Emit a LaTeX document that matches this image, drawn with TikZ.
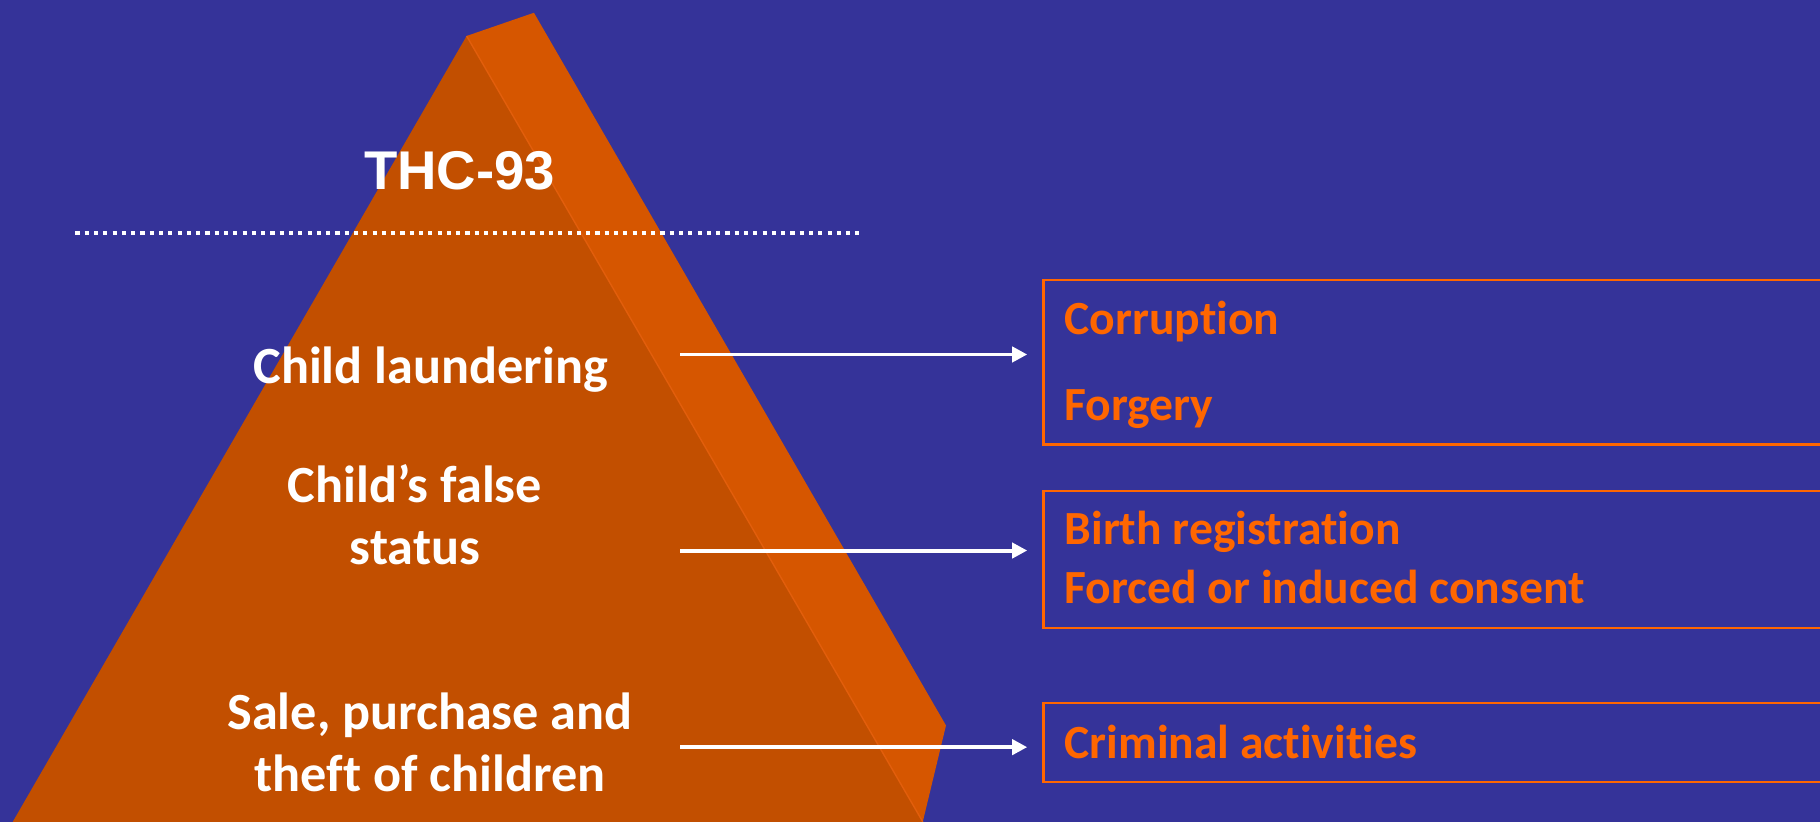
\documentclass[tikz,border=0pt]{standalone}
\usepackage{fontspec}
\setmainfont{Carlito}[Ligatures=NoCommon]
\newfontfamily\arialfont{Liberation Sans}
\usetikzlibrary{arrows.meta}
\definecolor{bgblue}{RGB}{53,51,153}
\definecolor{frontor}{RGB}{194,79,0}
\definecolor{sideor}{RGB}{214,86,0}
\definecolor{edgeor}{RGB}{226,94,12}
\definecolor{boxor}{RGB}{255,102,0}
\tikzset{
  lefttext/.style={text=white, font=\bfseries\fontsize{45}{53.5}\selectfont, align=center, inner sep=0pt},
  boxtext/.style={text=boxor, font=\bfseries\fontsize{41}{48}\selectfont, inner sep=0pt},
  itembox/.style={draw=boxor, line width=2pt, minimum width=720pt, inner sep=0pt},
  arr/.style={draw=white, line width=3.4pt, -{Triangle[length=13pt,width=13pt]}},
  dotline/.style={draw=white, line width=3.6pt, dash pattern=on 3.6pt off 4.4pt}
}
\begin{document}
\begin{tikzpicture}[x=1pt,y=-1pt]
\fill[bgblue] (0,0) rectangle (1568,708);
\useasboundingbox (0,0) rectangle (1568,708);
% pyramid
\fill[sideor] (402,31) -- (460,11) -- (815,625) -- (795,708) -- cycle;
\fill[frontor] (402,31) -- (795,708) -- (11,708) -- cycle;
\draw[edgeor, line width=1.2pt] (402,31) -- (795,708);
% title
\node[text=white, font=\arialfont\bfseries\fontsize{47}{56}\selectfont, inner sep=0pt, anchor=base] (title) at (396,163) {THC-93};
\draw[dotline] (65,201) -- (740,201);
% left texts (base anchor = baseline of the last line)
\node[lefttext, anchor=base] (l1) at (371,330) {Child laundering};
\node[lefttext, anchor=base] (l2) at (357.5,486.7) {Child’s false\\status};
\node[lefttext, anchor=base] (l3) at (370.5,682) {Sale, purchase and\\theft of children};
% boxes
\node[itembox, anchor=north west, minimum height=142pt] (b1) at (898,240) {};
\node[itembox, anchor=north west, minimum height=118pt] (b2) at (898,422) {};
\node[itembox, anchor=north west, minimum height=68pt] (b3) at (898,604.5) {};
% box texts
\node[boxtext, anchor=base west] (t1) at (917,288) {Corruption};
\node[boxtext, anchor=base west] (t2) at (917,362.5) {Forgery};
\node[boxtext, anchor=base west] (t3) at (917,469.5) {Birth registration};
\node[boxtext, anchor=base west] (t4) at (917,520) {Forced or induced consent};
\node[boxtext, anchor=base west] (t5) at (917,653.3) {Criminal activities};
% arrows
\coordinate (a1s) at (586,305.4);
\coordinate (a1e) at (885,305.4);
\coordinate (a2s) at (586,474.3);
\coordinate (a2e) at (885,474.3);
\coordinate (a3s) at (586,643.7);
\coordinate (a3e) at (885,643.7);
\draw[arr] (a1s) -- (a1e);
\draw[arr] (a2s) -- (a2e);
\draw[arr] (a3s) -- (a3e);
\end{tikzpicture}
\end{document}
